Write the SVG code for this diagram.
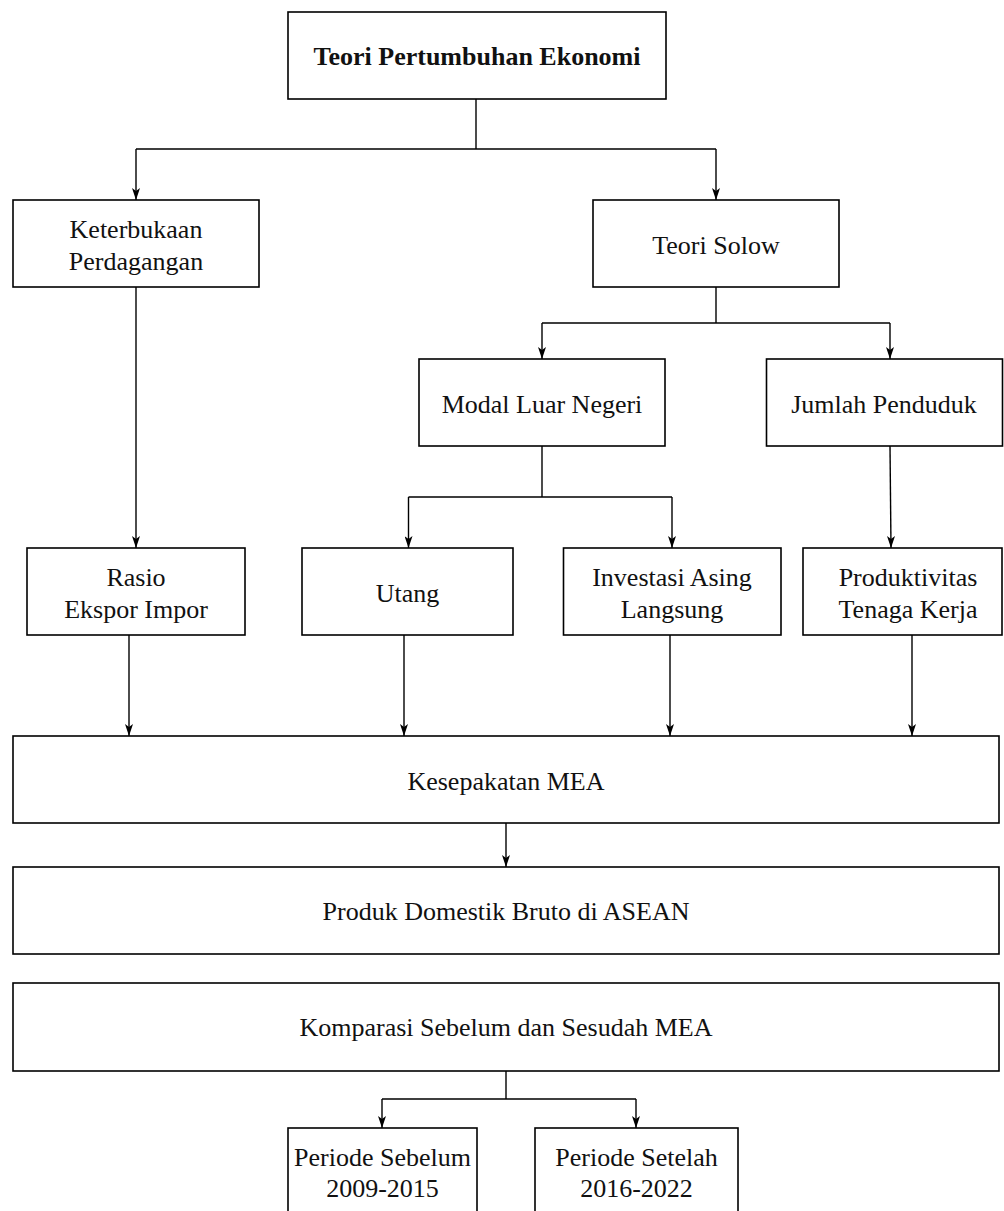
<svg xmlns="http://www.w3.org/2000/svg" width="1004" height="1211" viewBox="0 0 1004 1211">
<style>
.box{fill:#fff;stroke:#000;stroke-width:1.6}
.t{font-family:"Liberation Serif","Times New Roman",serif;font-size:26px;fill:#111;text-anchor:middle}
.b{font-weight:bold}
.c{fill:none;stroke:#000;stroke-width:1.4}
.a{marker-end:url(#arr)}
</style>
<defs>
<marker id="arr" markerUnits="userSpaceOnUse" viewBox="0 0 8 12" refX="4" refY="12" markerWidth="8" markerHeight="12" orient="0">
<path d="M0,0 L4,12 L8,0 L4,3 z" fill="#000"/>
</marker>
</defs>
<rect width="1004" height="1211" fill="#fff"/>
<g id="connectors">
<path class="c" d="M476,99 V149 H716 M476,149 H136"/>
<path class="c a" d="M136,149 V200"/>
<path class="c a" d="M716,149 V200"/>
<path class="c a" d="M136,287 V548"/>
<path class="c" d="M716,287 V323 H890 M716,323 H542"/>
<path class="c a" d="M542,323 V359"/>
<path class="c a" d="M890,323 V359"/>
<path class="c" d="M542,446 V497 H672 M542,497 H408.5"/>
<path class="c a" d="M408.5,497 V548"/>
<path class="c a" d="M672,497 V548"/>
<path class="c a" d="M890,446 L891,548"/>
<path class="c a" d="M129,635 V736"/>
<path class="c a" d="M404,635 V736"/>
<path class="c a" d="M670,635 V736"/>
<path class="c a" d="M912,635 V736"/>
<path class="c a" d="M506,823 V867"/>
<path class="c" d="M506,1071 V1099 H636 M506,1099 H382"/>
<path class="c a" d="M382,1099 V1128"/>
<path class="c a" d="M636,1099 V1128"/>
</g>
<g id="n-teori-pertumbuhan"><rect class="box" x="288" y="12" width="378" height="87"/><text class="t b" x="477" y="65">Teori Pertumbuhan Ekonomi</text></g>
<g id="n-keterbukaan"><rect class="box" x="13" y="200" width="246" height="87"/><text class="t" x="136" y="238">Keterbukaan</text><text class="t" x="136" y="270">Perdagangan</text></g>
<g id="n-solow"><rect class="box" x="593" y="200" width="246" height="87"/><text class="t" x="716" y="254">Teori Solow</text></g>
<g id="n-modal"><rect class="box" x="419" y="359" width="246" height="87"/><text class="t" x="542" y="413">Modal Luar Negeri</text></g>
<g id="n-jumlah"><rect class="box" x="766.5" y="359" width="236" height="87"/><text class="t" x="884" y="413">Jumlah Penduduk</text></g>
<g id="n-rasio"><rect class="box" x="27" y="548" width="218" height="87"/><text class="t" x="136" y="586">Rasio</text><text class="t" x="136" y="618">Ekspor Impor</text></g>
<g id="n-utang"><rect class="box" x="302" y="548" width="211" height="87"/><text class="t" x="407.5" y="602">Utang</text></g>
<g id="n-investasi"><rect class="box" x="563.5" y="548" width="217.5" height="87"/><text class="t" x="672" y="586">Investasi Asing</text><text class="t" x="672" y="618">Langsung</text></g>
<g id="n-produktivitas"><rect class="box" x="803" y="548" width="199" height="87"/><text class="t" x="908" y="586">Produktivitas</text><text class="t" x="908" y="618">Tenaga Kerja</text></g>
<g id="n-mea"><rect class="box" x="13" y="736" width="986" height="87"/><text class="t" x="506" y="790">Kesepakatan MEA</text></g>
<g id="n-pdb"><rect class="box" x="13" y="867" width="986" height="87"/><text class="t" x="506" y="920">Produk Domestik Bruto di ASEAN</text></g>
<g id="n-komparasi"><rect class="box" x="13" y="983" width="986" height="88"/><text class="t" x="506" y="1036">Komparasi Sebelum dan Sesudah MEA</text></g>
<g id="n-sebelum"><rect class="box" x="288" y="1128" width="189" height="100"/><text class="t" x="382.5" y="1166">Periode Sebelum</text><text class="t" x="382.5" y="1197">2009-2015</text></g>
<g id="n-setelah"><rect class="box" x="535" y="1128" width="203" height="100"/><text class="t" x="636.5" y="1166">Periode Setelah</text><text class="t" x="636.5" y="1197">2016-2022</text></g>
</svg>
